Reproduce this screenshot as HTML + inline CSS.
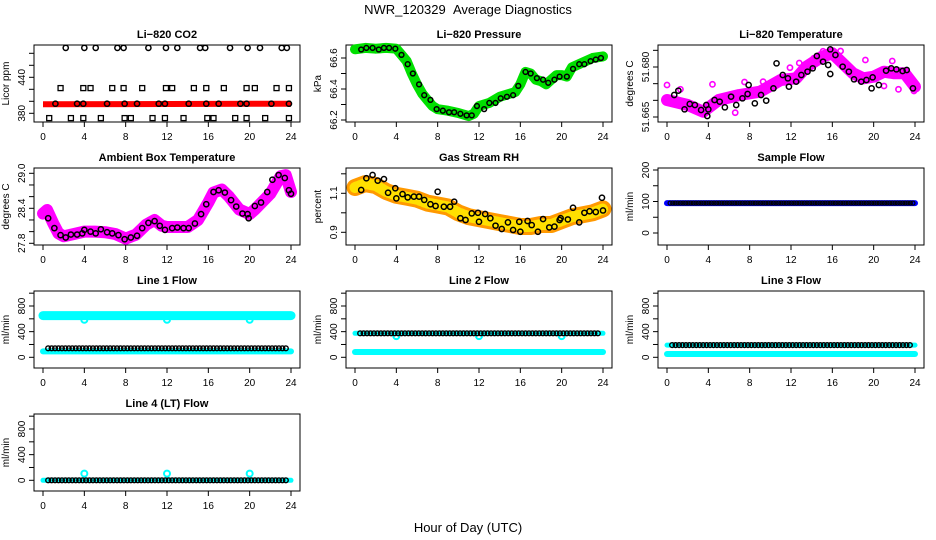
<!DOCTYPE html>
<html><head><meta charset="utf-8">
<style>
html,body{margin:0;padding:0;background:#fff;}
svg{display:block;font-family:"Liberation Sans",sans-serif;}
</style></head>
<body>
<svg id="chart" width="936" height="540" viewBox="0 0 936 540" xmlns="http://www.w3.org/2000/svg">
<text x="468" y="14" font-size="13" text-anchor="middle">NWR_120329 &#160;Average Diagnostics</text>
<text x="468" y="532" font-size="13" text-anchor="middle">Hour of Day (UTC)</text>
</svg>
<script>
// ---------- data ----------
const xTicks = [0,4,8,12,16,20,24];

const co2LineHours = [0,24];
const co2LineVals = [395,396];
const co2TopHours = [2.2,4,5.1,7.2,7.8,10.2,11.9,13.0,15.2,15.7,18.1,19.8,21,23.1,23.6];
const co2TopVal = 489;
const co2SqHours = [1.7,3.9,4.6,6.7,7.8,9.6,11.9,12.5,14.6,15.8,17.5,19.7,20.5,22.6,23.8];
const co2SqVal = 422;
const co2MidHours = [1.2,3.3,3.9,6.2,7.9,9.1,11.2,11.8,14.1,15.8,17,19.1,19.7,22.1,23.8];
const co2MidVal = 396;
const co2LowHours = [0.6,2.7,3.9,5.6,7.9,8.5,10.6,11.8,13.6,15.9,16.5,18.6,19.7,21.5,23.8];
const co2LowVal = 372;

const presHours = [0,1,2,3,4,4.5,5,5.5,6,6.5,7,7.5,8,9,10,11,11.5,12,13,14,15,15.5,16,16.5,17,17.5,18,18.5,19,19.5,20,20.5,21,22,23,24];
const presVals = [66.656,66.665,66.66,66.665,66.66,66.62,66.58,66.5,66.43,66.37,66.33,66.29,66.27,66.26,66.245,66.225,66.24,66.29,66.31,66.35,66.37,66.38,66.43,66.51,66.5,66.46,66.45,66.43,66.46,66.49,66.49,66.48,66.54,66.57,66.6,66.61];
const presPtHours = [0.6,1.1,1.7,2.3,2.8,3.3,3.9,4.5,5.1,5.6,6.2,6.7,7.3,7.9,8.5,9.1,9.6,10.2,10.8,11.3,11.8,12.5,13,13.6,14.1,14.7,15.3,15.8,16.5,17,17.6,18.2,18.7,19.3,19.8,20.5,21.1,21.7,22.2,22.8,23.3,23.8];
const presPtVals = [66.655,66.665,66.665,66.655,66.665,66.665,66.66,66.62,66.56,66.5,66.43,66.36,66.33,66.27,66.26,66.25,66.25,66.24,66.23,66.23,66.29,66.27,66.31,66.31,66.34,66.35,66.36,66.42,66.51,66.5,66.47,66.46,66.44,66.46,66.48,66.48,66.53,66.56,66.56,66.58,66.59,66.6];

const tempHours = [0,2,3.5,5,7,9,11,12.5,13.5,15,16,17,18,19,20,21,22,23,24];
const tempVals = [51.6701,51.6686,51.6666,51.6701,51.6716,51.6726,51.6761,51.6766,51.6801,51.6831,51.6841,51.6811,51.6781,51.6766,51.6771,51.6786,51.6781,51.6781,51.6741];
const tempPtHours = [0.7,1.1,1.7,2.2,2.7,3.3,3.8,3.9,4,4.6,5.1,5.6,6.2,6.7,7.3,7.8,7.9,8.5,9.1,9.6,10.3,10.6,11.2,11.7,11.8,12.5,13,13.6,14.1,14.5,15.1,15.6,15.8,15.8,16.3,17,17.6,18.1,18.8,19.3,19.8,19.9,20.5,21.2,21.7,22.2,22.8,23.2,23.8];
const tempPtVals = [51.6716,51.6729,51.6673,51.6689,51.6686,51.6671,51.6686,51.6653,51.6673,51.6701,51.6696,51.6679,51.6711,51.6686,51.6706,51.6719,51.6746,51.6691,51.6716,51.6699,51.6736,51.6811,51.6776,51.6766,51.6741,51.6756,51.6776,51.6786,51.6796,51.6833,51.6816,51.6806,51.6853,51.6779,51.6836,51.6801,51.6786,51.6763,51.6756,51.6761,51.6736,51.6769,51.6746,51.6789,51.6796,51.6793,51.6788,51.6791,51.6736];
const tempOutHours = [0,1.3,4.4,6.6,7.5,9.3,10.5,11.9,12.8,14.2,15.1,16.8,19.2,21.0,21.8,22.4,23.9];
const tempOutVals = [51.6746,51.6733,51.6748,51.6663,51.6755,51.6756,51.6743,51.6798,51.6812,51.6826,51.6847,51.6848,51.6821,51.6743,51.6818,51.6733,51.6728];

const ambHours = [0,0.4,1,1.5,2,3,4,5,6,7,8,9,10,10.8,11.5,12,14,15,16,16.5,17.3,18,19,20,20.5,22,23,23.5,24];
const ambVals = [28.31,28.37,28.14,27.97,27.92,27.96,28.0,28.0,27.99,27.96,27.88,27.95,28.12,28.2,28.1,28.08,28.08,28.2,28.5,28.67,28.72,28.6,28.38,28.3,28.38,28.65,28.95,28.97,28.68];
const ambPtHours = [0.5,1.1,1.7,2.2,2.7,3.3,3.8,4,4.6,5.1,5.6,6.2,6.7,7.3,7.9,8.5,9.1,9.6,10.2,10.8,11.3,11.8,12.5,13,13.6,14.1,14.7,15.3,15.8,16.5,17,17.6,18.2,18.7,19.3,19.8,19.9,20.5,21.1,21.7,22.2,22.8,23.4,23.8,24];
const ambPtVals = [28.23,28.06,27.94,27.9,27.95,27.95,27.97,28.03,28.0,27.97,28.04,27.99,27.97,27.94,27.87,27.9,27.93,28.06,28.15,28.18,28.1,28.03,28.06,28.07,28.06,28.06,28.14,28.3,28.47,28.68,28.71,28.67,28.54,28.43,28.31,28.3,28.23,28.44,28.5,28.68,28.89,28.97,28.92,28.71,28.65];

const rhHours = [0,1,2,3,4,5,6,7,8,9,10,11,12,13,14,15,16,17,18,19,20,21,22,23,24];
const rhVals = [1.13,1.15,1.14,1.11,1.09,1.08,1.07,1.05,1.04,1.03,1.0,0.98,0.97,0.96,0.95,0.94,0.93,0.93,0.94,0.94,0.96,0.98,0.99,1.0,1.02];
const rhPtHours = [0.6,1.1,1.7,2.2,2.8,3.2,3.9,4,4.6,5.1,5.7,6.2,6.7,7.3,7.8,8,8.6,9.2,9.6,10.2,10.7,11.3,11.9,12,12.6,13.1,13.6,14.2,14.8,15.3,15.9,16,16.7,17.1,17.7,18.2,18.8,19.3,19.8,19.9,20.6,21.1,21.7,22.2,22.7,23.3,23.9,24];
const rhPtVals = [1.117,1.177,1.194,1.165,1.173,1.103,1.126,1.074,1.096,1.079,1.083,1.083,1.066,1.044,1.035,1.108,1.031,1.031,1.057,0.972,0.963,0.997,1.0,0.954,0.994,0.972,0.934,0.917,0.951,0.912,0.954,0.903,0.958,0.937,0.903,0.968,0.925,0.929,0.963,0.972,0.966,1.026,0.951,1.0,1.008,1.004,1.077,1.012];

const sampleBlue = 95;
const sampleBlack = 95;
const line1CyanHigh = 650, line1CyanLow = 92, line1Black = 140, line1Dip = 585;
const line2Cyan = 82, line2Black = 374, line2Dip = 330;
const line3Cyan = 52, line3Black = 190;
const line4Cyan = 0, line4Black = 0, line4Spike = 105;
const dipHours = [4,12,20];

// ---------- drawing ----------
const svg = document.getElementById('chart');
const NS = 'http://www.w3.org/2000/svg';
function mk(tag, attrs, parent){
  const e = document.createElementNS(NS, tag);
  for (const k in attrs) e.setAttribute(k, attrs[k]);
  (parent||svg).appendChild(e);
  return e;
}
const BW = 266, BH = 77;
function panel(name, col, row, title, ylab, v1, o1, v2, o2, ticks, labels){
  const L = 34 + 312*col, T = 45 + 123*row;
  const g = mk('g', {});
  
  
  const x = h => L + 9 + h * 248 / 24;
  const k = (o2 - o1) / (v2 - v1);
  const y = v => T + o1 + (v - v1) * k;
  const box = mk('rect', {x:L, y:T, width:BW, height:BH, fill:'none', stroke:'#000', 'stroke-width':1}, g);
  
  
  const t = mk('text', {x:L+BW/2, y:T-7, 'font-size':11, 'font-weight':'bold', 'text-anchor':'middle'}, g);
  t.textContent = title;
  
  
  const xa = mk('g', {}, g);
  
  
  mk('line', {x1:x(0), x2:x(24), y1:T+BH, y2:T+BH, stroke:'#000'}, xa);
  xTicks.forEach(v => {
    mk('line', {x1:x(v), x2:x(v), y1:T+BH, y2:T+BH+5, stroke:'#000'}, xa);
    const tl = mk('text', {x:x(v), y:T+BH+18, 'font-size':10, 'text-anchor':'middle'}, xa);
    tl.textContent = v;
  });
  const ya = mk('g', {}, g);
  
  
  ticks.forEach(v => {
    mk('line', {x1:L-5, x2:L, y1:y(v), y2:y(v), stroke:'#000'}, ya);
  });
  labels.forEach(s => {
    const v = parseFloat(s);
    const tl = mk('text', {x:L-9, y:y(v), 'font-size':10, 'text-anchor':'middle', transform:`rotate(-90 ${L-9} ${y(v)})`}, ya);
    tl.textContent = s;
  });
  const yl = mk('text', {x:L-25, y:T+BH/2, 'font-size':10, 'text-anchor':'middle', transform:`rotate(-90 ${L-25} ${T+BH/2})`}, g);
  yl.textContent = ylab;
  
  
  const data = mk('g', {}, g);
  
  
  return {x, y, g:data};
}
function band(p, hs, vs, color, w, extra){
  const d = hs.map((h,i)=>(i?'L':'M')+p.x(h).toFixed(1)+' '+p.y(vs[i]).toFixed(1)).join(' ');
  const e = mk('path', Object.assign({d, fill:'none', stroke:color, 'stroke-width':w, 'stroke-linejoin':'round', 'stroke-linecap':'round'}, extra||{}), p.g);
  
  
}
function pts(p, hs, vs, color, r, sw){
  hs.forEach((h,i)=>{
    const v = Array.isArray(vs) ? vs[i] : vs;
    const c = mk('circle', {cx:p.x(h), cy:p.y(v), r:r||2.6, fill:'none', stroke:color||'#000', 'stroke-width':sw||1.5}, p.g);
    
    
  });
}
function sq(p, hs, v){
  hs.forEach(h=>{
    const c = mk('rect', {x:p.x(h)-2.5, y:p.y(v)-2.5, width:5, height:5, fill:'none', stroke:'#000', 'stroke-width':1.3}, p.g);
    
    
  });
}
function seq(a,b,s){const r=[];for(let h=a;h<=b+1e-9;h+=s)r.push(+h.toFixed(3));return r;}
const denseHours = seq(0.5, 23.8, 1/3);

let p = panel('co2',0,0,'Li\u2212820 CO2','Licor ppm',380,68.3,440,32.3,[380,400,420,440,460,480],['380','440']);
band(p, co2LineHours, co2LineVals, '#ff0000', 6, {'stroke-linecap':'butt'});
pts(p, co2TopHours, co2TopVal); sq(p, co2SqHours, co2SqVal); pts(p, co2MidHours, co2MidVal); sq(p, co2LowHours, co2LowVal);

p = panel('pressure',1,0,'Li\u2212820 Pressure','kPa',66.2,75,66.6,13,[66.2,66.3,66.4,66.5,66.6],['66.2','66.4','66.6']);
band(p, presHours, presVals, '#00e000', 10);
pts(p, presPtHours, presPtVals, '#000', 2.4);

p = panel('temperature',2,0,'Li\u2212820 Temperature','degrees C',51.665,72,51.680,22,[51.665,51.670,51.675,51.680,51.685],['51.665','51.680']);
band(p, tempHours, tempVals, '#ff00ff', 12);
pts(p, tempOutHours, tempOutVals, '#ff00ff', 2.6, 1.6);
pts(p, tempPtHours, tempPtVals, '#000', 2.6);

p = panel('ambient-box-temp',0,1,'Ambient Box Temperature','degrees C',27.8,75.3,29.0,5.3,[27.8,28.0,28.2,28.4,28.6,28.8,29.0],['27.8','28.4','29.0']);
band(p, ambHours, ambVals, '#ff00ff', 12);
pts(p, ambPtHours, ambPtVals, '#000', 2.6);

p = panel('gas-stream-rh',1,1,'Gas Stream RH','percent',0.9,64.3,1.1,25.3,[0.9,1.0,1.1,1.2],['0.9','1.1']);
band(p, rhHours, rhVals, '#ff9900', 17);
band(p, rhHours, rhVals, '#ffe000', 11, {'stroke-dasharray':'2 2'});
pts(p, rhPtHours, rhPtVals, '#000', 2.6);

p = panel('sample-flow',2,1,'Sample Flow','ml/min',0,65,200,2,[0,50,100,150,200],['0','100','200']);
band(p, [0,24], [sampleBlue,sampleBlue], '#0000ff', 6);
pts(p, seq(0.3,23.9,0.25), sampleBlack, '#000', 2, 1.2);

const flowTicks=[0,200,400,600,800,1000], flowLabels=['0','400','800'];
p = panel('line1-flow',0,2,'Line 1 Flow','ml/min',0,66.3,800,15,flowTicks,flowLabels);
band(p, [0,24], [line1CyanHigh,line1CyanHigh], '#00ffff', 9);
band(p, [0,24], [line1CyanLow,line1CyanLow], '#00ffff', 6);
pts(p, dipHours, line1Dip, '#00ffff', 3, 2);
pts(p, denseHours, line1Black, '#000', 2.4, 1.4);

p = panel('line2-flow',1,2,'Line 2 Flow','ml/min',0,66.3,800,15,flowTicks,flowLabels);
band(p, [0,24], [line2Cyan,line2Cyan], '#00ffff', 6);
band(p, [0,24], [line2Black,line2Black], '#00ffff', 5);
pts(p, dipHours, line2Dip, '#00ffff', 3, 2);
pts(p, denseHours, line2Black, '#000', 2.4, 1.4);

p = panel('line3-flow',2,2,'Line 3 Flow','ml/min',0,66.3,800,15,flowTicks,flowLabels);
band(p, [0,24], [line3Cyan,line3Cyan], '#00ffff', 6);
band(p, [0,24], [line3Black,line3Black], '#00ffff', 5);
pts(p, denseHours, line3Black, '#000', 2.4, 1.4);

p = panel('line4-flow',0,3,'Line 4 (LT) Flow','ml/min',0,66.3,800,15,flowTicks,flowLabels);
band(p, [0,24], [line4Cyan,line4Cyan], '#00ffff', 5);
pts(p, dipHours, line4Spike, '#00ffff', 3, 2);
pts(p, denseHours, line4Black, '#000', 2.4, 1.4);
</script>
</body></html>
